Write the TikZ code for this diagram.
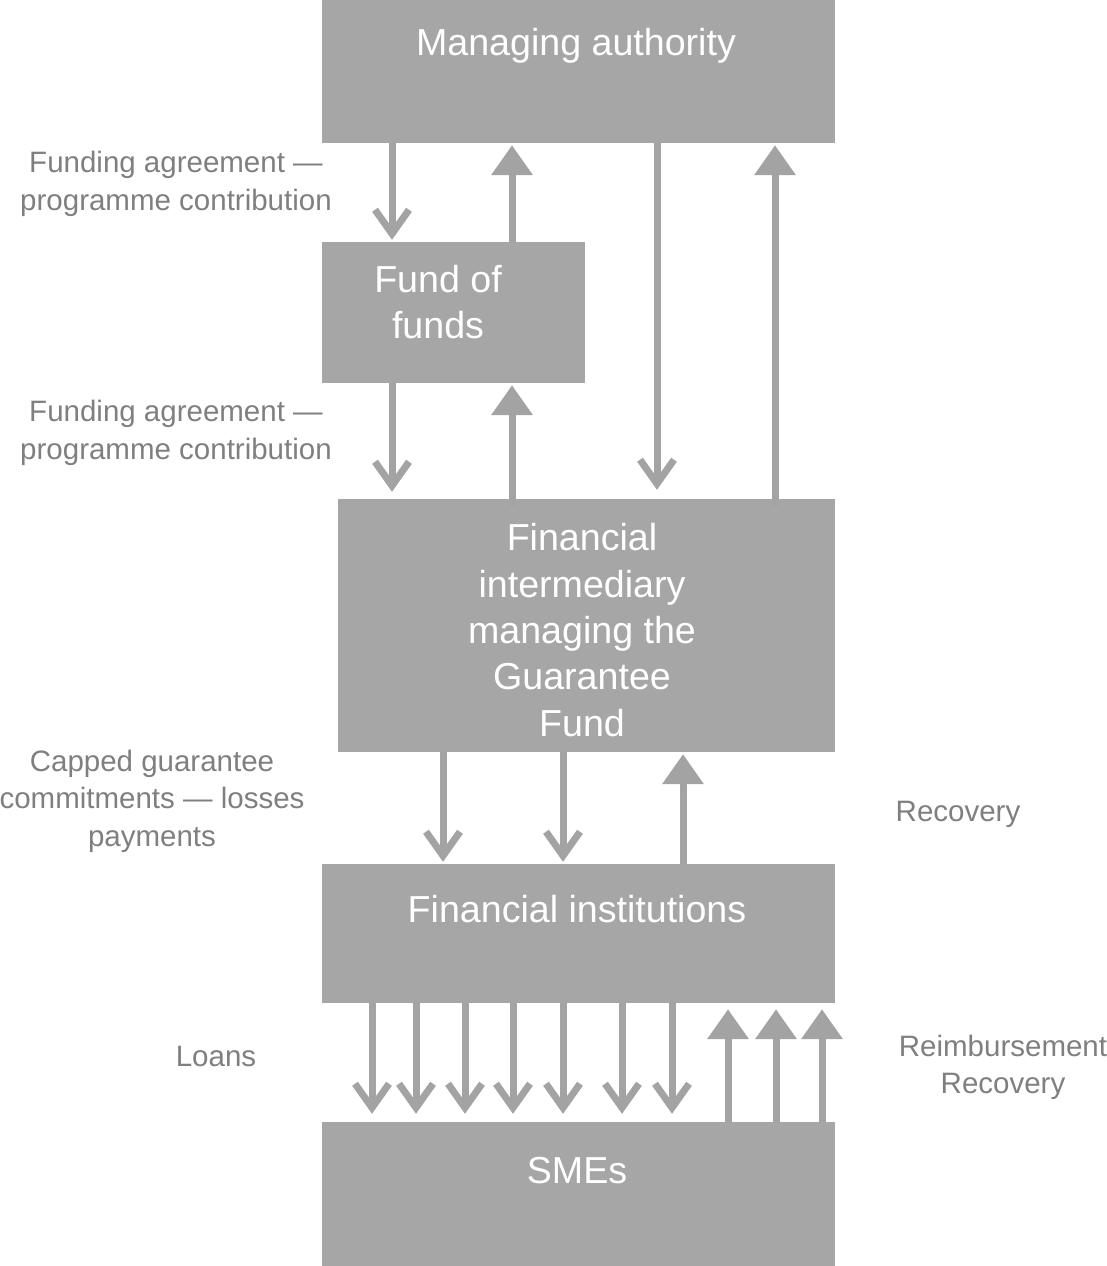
\documentclass[tikz,border=0pt]{standalone}
\usepackage{fontspec}
\setmainfont{Liberation Sans}
\usetikzlibrary{arrows.meta}
\definecolor{boxgray}{HTML}{A6A6A6}
\definecolor{arrgray}{HTML}{A3A3A3}
\definecolor{lblgray}{HTML}{7F7F7F}
\tikzset{
  box/.style={draw=none, fill=boxgray, inner sep=0pt, anchor=center},
  boxtext/.style={text=white, align=center, inner sep=0pt, font=\fontsize{37.6}{46.3}\selectfont},
  lbl/.style={text=lblgray, align=center, inner sep=0pt, font=\fontsize{29.5}{37.5}\selectfont},
  dnarrow/.style={draw=arrgray, line width=7pt, -{Straight Barb[length=24pt,width=34pt]}, shorten >=2pt},
  uparrow/.style={draw=arrgray, line width=7pt, -{Triangle[length=30pt,width=40pt]}, shorten >=2pt},
}
\begin{document}
\begin{tikzpicture}[x=1pt,y=-1pt]
\useasboundingbox (0,0) rectangle (1107,1266);
% boxes
\node[box, minimum width=513pt, minimum height=143pt] (ma) at (578.5,71.5) {};
\node[box, minimum width=263pt, minimum height=141pt] (fof) at (453.5,312.5) {};
\node[box, minimum width=497pt, minimum height=253pt] (fi) at (586.5,625.5) {};
\node[box, minimum width=513pt, minimum height=139pt] (inst) at (578.5,933.5) {};
\node[box, minimum width=513pt, minimum height=144pt] (sme) at (578.5,1194) {};
% box texts
\node[boxtext] (tma) at (576,46) {Managing authority};
\node[boxtext] (tfof) at (438,302) {Fund of\\funds};
\node[boxtext] (tfi) at (582,630) {Financial\\intermediary\\managing the\\Guarantee\\Fund};
\node[boxtext] (tinst) at (577,909) {Financial institutions};
\node[boxtext] (tsme) at (577,1171) {SMEs};
% labels
\node[lbl] (l1) at (176,184) {Funding agreement —\\programme contribution};
\node[lbl] (l2) at (176,433) {Funding agreement —\\programme contribution};
\node[lbl] (l3) at (152,801) {Capped guarantee\\commitments — losses\\payments};
\node[lbl] (l4) at (958,814) {Recovery};
\node[lbl] (l5) at (216,1056) {Loans};
\node[lbl] (l6) at (1003,1067.5) {Reimbursement\\Recovery};
% arrows MA <-> FoF
\draw[dnarrow] (392,0 |- ma.south) -- (392,0 |- fof.north);
\draw[uparrow] (512,0 |- fof.north) -- (512,0 |- ma.south);
% MA <-> FI
\draw[dnarrow, shorten >=9pt] (657,0 |- ma.south) -- (657,0 |- fi.north);
\draw[uparrow] ([yshift=-7pt]775,0 |- fi.north) -- (775,0 |- ma.south);
% FoF <-> FI
\draw[dnarrow, shorten >=7pt] (392,0 |- fof.south) -- (392,0 |- fi.north);
\draw[uparrow] ([yshift=-7pt]512,0 |- fi.north) -- (512,0 |- fof.south);
% FI <-> institutions
\draw[dnarrow] (443,0 |- fi.south) -- (443,0 |- inst.north);
\draw[dnarrow] (563,0 |- fi.south) -- (563,0 |- inst.north);
\draw[uparrow] (683,0 |- inst.north) -- (683,0 |- fi.south);
% institutions <-> SMEs
\foreach \xx in {372,416,465,513,563,622,672}{
  \draw[dnarrow, shorten >=8pt] (\xx,0 |- inst.south) -- (\xx,0 |- sme.north);
}
\foreach \xx in {728,776,822}{
  \draw[uparrow, shorten >=6pt] (\xx,0 |- sme.north) -- (\xx,0 |- inst.south);
}
\end{tikzpicture}
\end{document}
